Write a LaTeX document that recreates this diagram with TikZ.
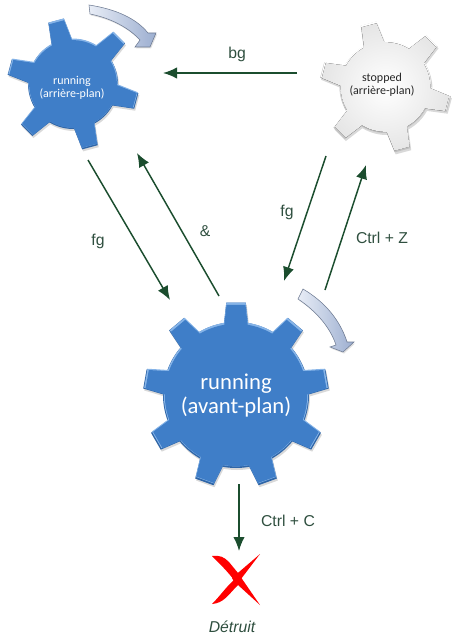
\documentclass[tikz,border=0pt]{standalone}
\usepackage{fontspec}
\setmainfont{Liberation Sans}
\newfontfamily\gearfont{Carlito}
\usetikzlibrary{arrows.meta}
\definecolor{arrowgreen}{HTML}{1B4D2E}
\definecolor{labelgreen}{HTML}{2F4F3F}
\definecolor{gearblue}{HTML}{3F7EC8}
\definecolor{geardark}{HTML}{2F66A8}
\definecolor{gearlight}{HTML}{86B4E8}
\definecolor{turnpale}{HTML}{E8EDF6}
\definecolor{turndeep}{HTML}{9CAED0}
\newcommand{\gearoutline}[6]{% r, R, n, start, base half, tip half
  (#4-#5:#1)
  \foreach \k [evaluate=\k as \a using {#4+\k*360/#3}] in {1,...,#3} {
    -- ({\a-360/#3-#5}:#1) -- ({\a-360/#3-#6}:#2) -- ({\a-360/#3+#6}:#2) -- ({\a-360/#3+#5}:#1)
    arc[start angle={\a-360/#3+#5}, end angle={\a-#5}, radius=#1]
  } -- cycle}
\newcommand{\beveledgear}[9]{% x,y,r,R,n,start,base,tip, colours prefix
  \begin{scope}[shift={(#1,#2)},x=0.75pt,y=0.75pt]
    \fill[black,opacity=.15,shift={(1,-2)}] \gearoutline{#3}{#4}{#5}{#6}{#7}{#8};
    \fill[#9dark] \gearoutline{#3}{#4}{#5}{#6}{#7}{#8};
    \fill[#9light,shift={(0,0.9)},scale=.99] \gearoutline{#3}{#4}{#5}{#6}{#7}{#8};
    \fill[#9face,scale=.975] \gearoutline{#3}{#4}{#5}{#6}{#7}{#8};
  \end{scope}}
\tikzset{
  blue dark/.style={fill=geardark},
  blue light/.style={fill=gearlight},
  blue face/.style={fill=gearblue},
  white dark/.style={fill=black!25},
  white light/.style={fill=white},
  white face/.style={inner color=white,outer color=black!10},
  flow/.style={draw=arrowgreen,line width=1.1pt,-{Latex[length=10.5pt,width=8.5pt]}},
  edgelabel/.style={text=labelgreen,font=\fontsize{11.8pt}{14pt}\selectfont,inner sep=0pt},
  bigtext/.style={text=white,align=center,inner sep=0pt,font=\gearfont\fontsize{17pt}{18pt}\selectfont},
  smalltext/.style={align=center,inner sep=0pt,font=\gearfont\fontsize{9pt}{10pt}\selectfont},
  turn/.style={draw=turndeep!70!black,line width=.4pt,left color=turnpale,right color=turndeep},
}
\begin{document}
\begin{tikzpicture}[x=0.75pt,y=-0.75pt]
\useasboundingbox (0,0) rectangle (456,638);
\beveledgear{73}{84}{45}{66}{6}{105}{13.5}{7}{blue }
\beveledgear{385.5}{87}{46}{66}{6}{105}{13.5}{7}{white }
\beveledgear{236}{395}{73}{93}{9}{90}{9.5}{6}{blue }
\node[smalltext,text=white] (runbg) at (72,88) {running\\(arrière-plan)};
\node[smalltext,text=black!85] (stopbg) at (382,85) {stopped\\(arrière-plan)};
\node[bigtext] (runfg) at (236,396) {running\\(avant-plan)};
% connector ends
\coordinate (bgA) at (297,73); \coordinate (bgB) at (163,73);
\coordinate (fgA) at (88,160); \coordinate (fgB) at (170,300);
\coordinate (amA) at (219,296); \coordinate (amB) at (137,153);
\coordinate (frA) at (326,156); \coordinate (frB) at (284,281);
\coordinate (czA) at (325,290); \coordinate (czB) at (366,165);
\coordinate (ccA) at (239,484); \coordinate (ccB) at (239,551);
\draw[flow] (bgA) -- (bgB);
\draw[flow] (fgA) -- (fgB);
\draw[flow] (amA) -- (amB);
\draw[flow] (frA) -- (frB);
\draw[flow] (czA) -- (czB);
\draw[flow] (ccA) -- (ccB);
\node[edgelabel] (lbg) at (237,54) {bg};
\node[edgelabel] (lfg) at (98,241) {fg};
\node[edgelabel] (lam) at (205,231) {\&};
\node[edgelabel] (lfr) at (287,212) {fg};
\node[edgelabel] (lcz) at (382,238) {Ctrl + Z};
\node[edgelabel] (lcc) at (288,521) {Ctrl + C};
\node[edgelabel,font=\itshape\fontsize{11.8pt}{14pt}\selectfont] (ldet) at (232,627) {Détruit};
% curved arrows
\fill[black!25,opacity=.5,shift={(1,1.5)}] (89,5) .. controls (115,9) and (136,18) .. (148,33) -- (156,33) -- (150,47) -- (135,47) -- (140,40) .. controls (128,27) and (110,18) .. (90,14) -- cycle;
\path[turn] (89,5) .. controls (115,9) and (136,18) .. (148,33) -- (156,33) -- (150,47) -- (135,47) -- (140,40) .. controls (128,27) and (110,18) .. (90,14) -- cycle;
\fill[black!25,opacity=.5,shift={(1,1.5)}] (303,289) .. controls (325,302) and (340,320) .. (347,342) -- (354,342) -- (343,352) -- (330,347) -- (336,345) .. controls (330,327) and (316,311) .. (298,299) -- cycle;
\path[turn] (303,289) .. controls (325,302) and (340,320) .. (347,342) -- (354,342) -- (343,352) -- (330,347) -- (336,345) .. controls (330,327) and (316,311) .. (298,299) -- cycle;
% red cross
\fill[red] (212,556) .. controls (220,555) and (224,557) .. (229,562) -- (238,573) -- (260,605) -- (238,585)
  .. controls (228,595) and (224,603) .. (212,604) .. controls (220,596) and (226,587) .. (234,580)
  .. controls (228,572) and (220,564) .. (212,556) -- cycle;
\fill[red] (260,554) -- (241,579) -- (236,586) -- (232,578) -- cycle;
\end{tikzpicture}
\end{document}
